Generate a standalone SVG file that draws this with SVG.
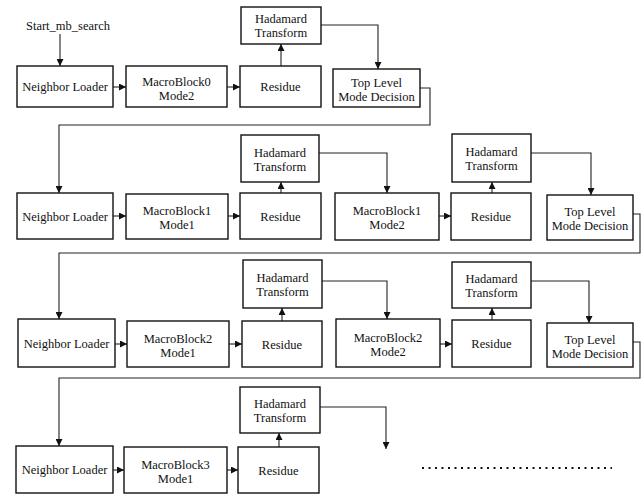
<svg xmlns="http://www.w3.org/2000/svg" width="642" height="495" viewBox="0 0 642 495">
<style>
.b rect{fill:#fff;stroke:#111;stroke-width:1.4}
text{font-family:"Liberation Serif","Times New Roman",serif;font-size:12.5px;fill:#111;text-anchor:middle}
.c path{fill:none;stroke:#222;stroke-width:1.1}
.a{marker-end:url(#ah)}
</style>
<defs>
<marker id="ah" viewBox="0 0 8 8" refX="8" refY="4" markerWidth="7" markerHeight="7" orient="auto" markerUnits="userSpaceOnUse"><path d="M0,0 L8,4 L0,8 z" fill="#111"/></marker>
</defs>
<rect width="642" height="495" fill="#fff"/>
<g id="connectors" class="c">
<path class="a" d="M60,34 V66"/>
<path class="a" d="M113,87 H126"/>
<path class="a" d="M227,87 H240"/>
<path class="a" d="M281,66 V44"/>
<path class="a" d="M321,25 H378 V69"/>
<path class="a" d="M420,88 H430 V125 H59 V193"/>
<path class="a" d="M113,216 H126"/>
<path class="a" d="M228,216 H240"/>
<path class="a" d="M281,193 V182"/>
<path class="a" d="M319,153 H387 V193"/>
<path class="a" d="M439,216 H451"/>
<path class="a" d="M492,193 V182"/>
<path class="a" d="M531,153 H591 V195"/>
<path class="a" d="M633,214 H640 V253 H59 V319"/>
<path class="a" d="M115,344 H127"/>
<path class="a" d="M229,344 H242"/>
<path class="a" d="M282,321 V308"/>
<path class="a" d="M322,281 H387 V319"/>
<path class="a" d="M440,344 H452"/>
<path class="a" d="M492,320 V308"/>
<path class="a" d="M531,281 H589 V323"/>
<path class="a" d="M633,342 H640 V378 H59 V446"/>
<path class="a" d="M113,470 H124"/>
<path class="a" d="M227,470 H238"/>
<path class="a" d="M279,447 V433"/>
<path class="a" d="M320,407 H386 V449"/>
<path d="M422,468 H612" style="stroke:#111;stroke-width:2;stroke-dasharray:2 4.5"/>
</g>
<g id="start"><text x="68" y="30">Start_mb_search</text></g>
<g class="b">
<g id="nl1"><rect x="17" y="66" width="96" height="41"/><text x="65" y="91">Neighbor Loader</text></g>
<g id="mb0m2"><rect x="126" y="66" width="101" height="41"/><text x="176.5" y="86">MacroBlock0</text><text x="176.5" y="100">Mode2</text></g>
<g id="res1"><rect x="240" y="66" width="81" height="41"/><text x="280.5" y="91">Residue</text></g>
<g id="had1"><rect x="241" y="7" width="80" height="37"/><text x="281" y="23">Hadamard</text><text x="281" y="37">Transform</text></g>
<g id="tl1"><rect x="333" y="69" width="87" height="38"/><text x="376.5" y="86.5">Top Level</text><text x="376.5" y="100.5">Mode Decision</text></g>

<g id="nl2"><rect x="17" y="193" width="96" height="46"/><text x="65" y="220.5">Neighbor Loader</text></g>
<g id="mb1m1"><rect x="126" y="194" width="102" height="45"/><text x="177" y="215">MacroBlock1</text><text x="177" y="229">Mode1</text></g>
<g id="res2a"><rect x="240" y="193" width="81" height="46"/><text x="280.5" y="220.5">Residue</text></g>
<g id="had2a"><rect x="241" y="135" width="78" height="47"/><text x="280" y="156.5">Hadamard</text><text x="280" y="170.5">Transform</text></g>
<g id="mb1m2"><rect x="335" y="193" width="104" height="47"/><text x="387" y="215">MacroBlock1</text><text x="387" y="229">Mode2</text></g>
<g id="res2b"><rect x="451" y="193" width="80" height="47"/><text x="491" y="221">Residue</text></g>
<g id="had2b"><rect x="452" y="134" width="79" height="48"/><text x="491.5" y="156">Hadamard</text><text x="491.5" y="170">Transform</text></g>
<g id="tl2"><rect x="547" y="195" width="86" height="45"/><text x="590" y="216">Top Level</text><text x="590" y="230">Mode Decision</text></g>

<g id="nl3"><rect x="18" y="319" width="97" height="48"/><text x="66.5" y="347.5">Neighbor Loader</text></g>
<g id="mb2m1"><rect x="127" y="321" width="102" height="46"/><text x="178" y="342.5">MacroBlock2</text><text x="178" y="356.5">Mode1</text></g>
<g id="res3a"><rect x="242" y="321" width="80" height="46"/><text x="282" y="348.5">Residue</text></g>
<g id="had3a"><rect x="243" y="260" width="79" height="48"/><text x="282.5" y="282">Hadamard</text><text x="282.5" y="296">Transform</text></g>
<g id="mb2m2"><rect x="336" y="319" width="104" height="48"/><text x="388" y="341.5">MacroBlock2</text><text x="388" y="355.5">Mode2</text></g>
<g id="res3b"><rect x="452" y="320" width="79" height="47"/><text x="491.5" y="348">Residue</text></g>
<g id="had3b"><rect x="452" y="262" width="79" height="46"/><text x="491.5" y="283">Hadamard</text><text x="491.5" y="297">Transform</text></g>
<g id="tl3"><rect x="547" y="323" width="86" height="44"/><text x="590" y="343.5">Top Level</text><text x="590" y="357.5">Mode Decision</text></g>

<g id="nl4"><rect x="16" y="446" width="97" height="47"/><text x="64.5" y="474">Neighbor Loader</text></g>
<g id="mb3m1"><rect x="124" y="447" width="103" height="46"/><text x="175.5" y="468.5">MacroBlock3</text><text x="175.5" y="482.5">Mode1</text></g>
<g id="res4"><rect x="238" y="447" width="81" height="46"/><text x="278.5" y="474.5">Residue</text></g>
<g id="had4"><rect x="240" y="387" width="80" height="46"/><text x="280" y="408">Hadamard</text><text x="280" y="422">Transform</text></g>
</g>
</svg>
